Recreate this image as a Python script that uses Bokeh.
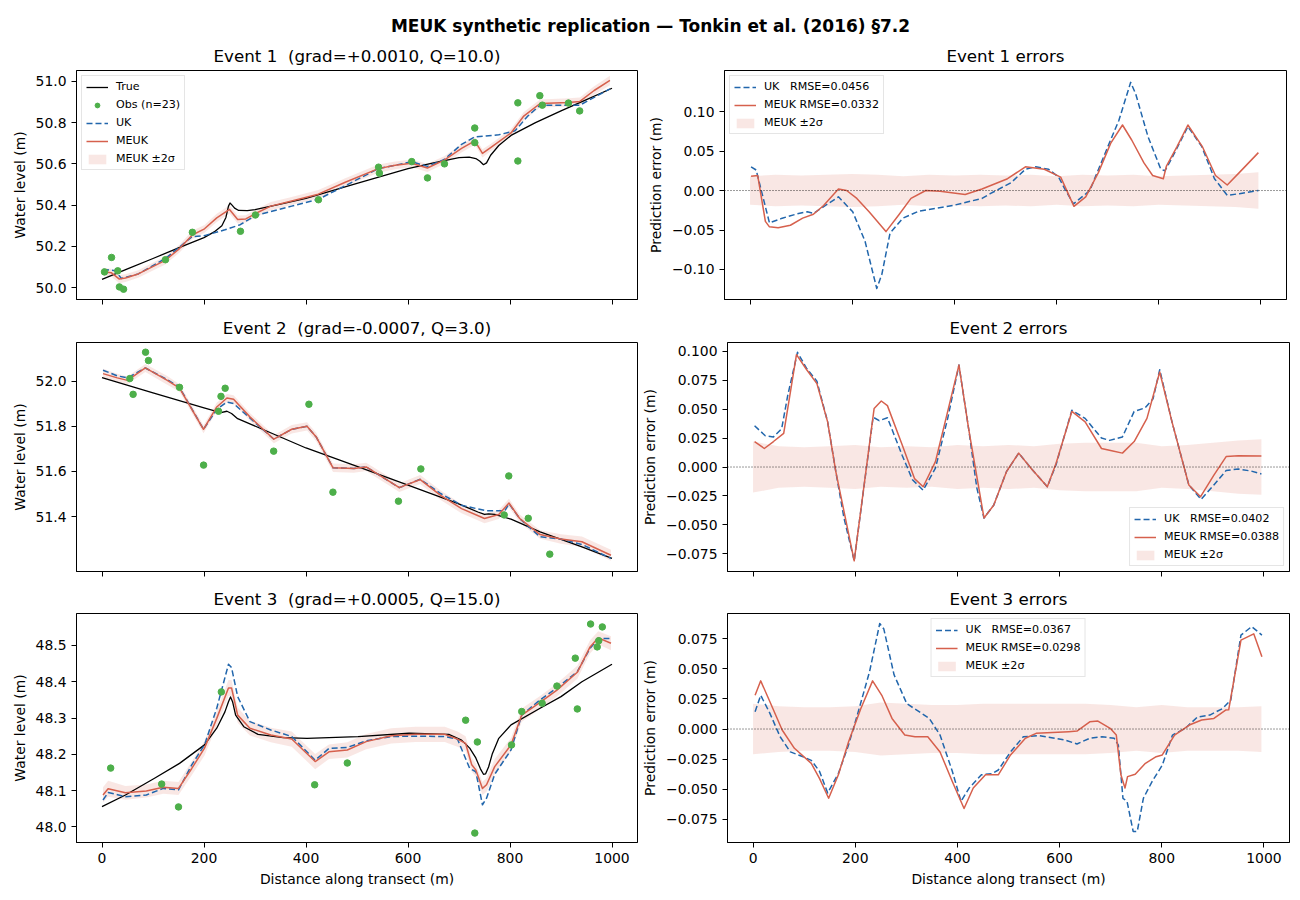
import numpy as np
from bokeh.plotting import figure
from bokeh.models import (Legend, LegendItem, FixedTicker, CustomJSTickFormatter,
                          Label, Range1d, Span)
from bokeh.layouts import column, row
from bokeh.embed import file_html
from bokeh.resources import INLINE

FONT = "DejaVu Sans"
C_TRUE = "black"
C_OBS = "#4daf4a"
C_UK = "#2166ac"
C_MEUK = "#d6604d"

SUPTITLE = "MEUK synthetic replication \u2014 Tonkin et al. (2016) \u00a77.2"
X_TICKS = [0, 200, 400, 600, 800, 1000]
X_LABEL = "Distance along transect (m)"
Y_LABEL_L = "Water level (m)"
Y_LABEL_R = "Prediction error (m)"

# ---------------- Event 1 ----------------
e1_title = "Event 1 \u00a0(grad=+0.0010, Q=10.0)"
e1_err_title = "Event 1 errors"
e1_uk_label = "UK   RMSE=0.0456"
e1_meuk_label = "MEUK RMSE=0.0332"
e1_yticks = [50.0, 50.2, 50.4, 50.6, 50.8, 51.0]
e1_err_yticks = [-0.10, -0.05, 0.0, 0.05, 0.10]

e1_true_x = [0, 50, 100, 150, 200, 220, 235, 243, 248, 251, 255, 260, 268, 285, 300, 350, 400, 500,
             600, 650, 700, 720, 733, 741, 748, 754, 762, 778, 802, 850, 900, 950, 1000]
e1_true_y = [50.040, 50.091, 50.141, 50.192, 50.242, 50.270, 50.300, 50.340, 50.395, 50.410, 50.400,
             50.385, 50.374, 50.373, 50.378, 50.405, 50.433, 50.505, 50.577, 50.605, 50.630, 50.633,
             50.626, 50.613, 50.596, 50.605, 50.642, 50.689, 50.738, 50.800, 50.857, 50.912, 50.967]
e1_obs_x = [4.9, 18.7, 30.9, 34.1, 42.3, 124.4, 177.2, 271.5, 300.8, 424.4, 542.3, 543.9, 607.3,
            638.2, 671.5, 730.9, 730.9, 815.4, 815.4, 858.5, 863.4, 914.6, 936.6]
e1_obs_y = [50.076, 50.146, 50.081, 50.003, 49.992, 50.135, 50.268, 50.273, 50.352, 50.426, 50.584,
            50.555, 50.611, 50.532, 50.600, 50.774, 50.703, 50.896, 50.614, 50.931, 50.885, 50.895,
            50.857]
e1_uk_x = [2, 26, 38, 71, 124, 177, 201, 241, 271, 301, 372, 424, 477, 542, 607, 638, 671, 705, 731,
           778, 810, 835, 859, 937, 996]
e1_uk_y = [50.087, 50.082, 50.044, 50.066, 50.140, 50.247, 50.252, 50.280, 50.305, 50.349, 50.395,
           50.428, 50.494, 50.577, 50.610, 50.588, 50.621, 50.695, 50.731, 50.741, 50.761, 50.832,
           50.885, 50.885, 50.964]
e1_meuk_x = [2, 18, 34, 46, 71, 124, 152, 177, 201, 225, 250, 266, 282, 301, 331, 372, 424, 477, 542,
             575, 607, 638, 671, 705, 731, 746, 762, 802, 827, 859, 915, 937, 965, 996]
e1_meuk_y = [50.077, 50.072, 50.041, 50.046, 50.066, 50.132, 50.189, 50.255, 50.285, 50.338, 50.379,
             50.330, 50.333, 50.359, 50.395, 50.420, 50.453, 50.511, 50.577, 50.593, 50.603, 50.580,
             50.618, 50.675, 50.712, 50.651, 50.679, 50.750, 50.832, 50.893, 50.898, 50.903, 50.956,
             51.005]
e1_meuk_sig = [0.018, 0.019, 0.020, 0.019, 0.018, 0.020, 0.019, 0.020, 0.019, 0.020, 0.020, 0.019,
               0.018, 0.019, 0.020, 0.019, 0.020, 0.019, 0.020, 0.019, 0.018, 0.020, 0.019, 0.020,
               0.019, 0.020, 0.018, 0.019, 0.020, 0.019, 0.020, 0.019, 0.021, 0.023]
e1_err_uk_x = [2, 12, 38, 63, 95, 112, 124, 173, 201, 225, 248, 258, 274, 299, 331, 397, 454, 470,
               511, 539, 559, 584, 604, 616, 633, 665, 698, 722, 745, 755, 779, 804, 812, 828, 857,
               884, 909, 934, 958, 995]
e1_err_uk_y = [0.030, 0.026, -0.041, -0.035, -0.029, -0.027, -0.029, -0.008, -0.027, -0.064, -0.124,
               -0.106, -0.054, -0.035, -0.026, -0.019, -0.010, -0.004, 0.010, 0.027, 0.030, 0.027,
               0.017, 0.002, -0.017, 0.000, 0.052, 0.089, 0.137, 0.122, 0.068, 0.027, 0.025, 0.044,
               0.081, 0.056, 0.015, -0.006, -0.004, 0.000]
e1_err_meuk_x = [2, 15, 30, 38, 55, 79, 103, 124, 144, 173, 189, 209, 233, 266, 291, 315, 344, 372,
                 421, 454, 504, 539, 576, 608, 634, 657, 682, 706, 729, 747, 771, 788, 809, 815, 836,
                 857, 885, 911, 934, 958, 995]
e1_err_meuk_y = [0.018, 0.019, -0.039, -0.046, -0.047, -0.044, -0.035, -0.030, -0.019, 0.002, 0.000,
                 -0.010, -0.027, -0.052, -0.031, -0.010, 0.000, -0.001, -0.005, 0.002, 0.015, 0.030,
                 0.027, 0.017, -0.020, -0.008, 0.023, 0.060, 0.083, 0.064, 0.035, 0.019, 0.015, 0.031,
                 0.056, 0.083, 0.056, 0.019, 0.007, 0.023, 0.048]
e1_sig_x = [0, 50, 100, 150, 200, 250, 300, 350, 400, 450, 500, 550, 600, 650, 700, 750, 800, 850,
            900, 950, 995]
e1_sig = [0.018, 0.020, 0.019, 0.020, 0.021, 0.020, 0.018, 0.020, 0.019, 0.020, 0.019, 0.020, 0.018,
          0.020, 0.019, 0.020, 0.018, 0.019, 0.020, 0.021, 0.023]

# ---------------- Event 2 ----------------
e2_title = "Event 2 \u00a0(grad=-0.0007, Q=3.0)"
e2_err_title = "Event 2 errors"
e2_uk_label = "UK   RMSE=0.0402"
e2_meuk_label = "MEUK RMSE=0.0388"
e2_yticks = [51.4, 51.6, 51.8, 52.0]
e2_err_yticks = [-0.075, -0.050, -0.025, 0.0, 0.025, 0.050, 0.075, 0.100]

e2_true_x = [0, 100, 200, 233, 245, 254, 266, 290, 400, 500, 600, 697, 737, 750, 758, 770, 802, 859,
             941, 1000]
e2_true_y = [52.016, 51.949, 51.882, 51.861, 51.867, 51.857, 51.834, 51.811, 51.704, 51.622, 51.539,
             51.458, 51.420, 51.409, 51.412, 51.409, 51.388, 51.332, 51.265, 51.214]
e2_obs_x = [54.5, 61.0, 85.4, 91.1, 152.0, 199.2, 228.5, 233.3, 241.5, 336.6, 405.7, 452.8, 581.3,
            625.2, 788.6, 797.6, 835.8, 878.0]
e2_obs_y = [52.012, 51.942, 52.129, 52.092, 51.973, 51.628, 51.867, 51.933, 51.969, 51.690, 51.898,
            51.508, 51.468, 51.611, 51.407, 51.580, 51.392, 51.233]
e2_uk_x = [2, 30, 50, 85, 128, 152, 199, 225, 245, 258, 290, 337, 372, 402, 420, 453, 494, 518, 583,
           624, 664, 705, 754, 790, 798, 819, 859, 900, 941, 998]
e2_uk_y = [52.049, 52.024, 52.015, 52.059, 52.007, 51.973, 51.787, 51.876, 51.908, 51.901, 51.837,
           51.743, 51.787, 51.800, 51.753, 51.616, 51.613, 51.620, 51.528, 51.565, 51.502, 51.450,
           51.425, 51.426, 51.457, 51.391, 51.310, 51.300, 51.276, 51.214]
e2_meuk_x = [2, 30, 50, 85, 128, 152, 199, 225, 245, 258, 290, 337, 372, 402, 420, 453, 494, 518, 583,
             624, 664, 705, 750, 778, 798, 819, 859, 900, 941, 998]
e2_meuk_y = [52.034, 52.015, 52.004, 52.059, 52.004, 51.970, 51.787, 51.886, 51.926, 51.920, 51.842,
             51.743, 51.787, 51.800, 51.753, 51.616, 51.613, 51.620, 51.528, 51.564, 51.494, 51.435,
             51.391, 51.409, 51.460, 51.391, 51.320, 51.300, 51.288, 51.228]
e2_meuk_sig = [0.022, 0.018, 0.017, 0.018, 0.019, 0.017, 0.018, 0.019, 0.018, 0.018, 0.017, 0.018,
               0.019, 0.018, 0.019, 0.019, 0.019, 0.018, 0.019, 0.020, 0.021, 0.021, 0.021, 0.020,
               0.019, 0.018, 0.019, 0.021, 0.023, 0.024]
e2_err_uk_x = [3, 24, 40, 56, 68, 87, 105, 125, 146, 162, 178, 198, 235, 247, 263, 292, 312, 333, 357,
               381, 403, 422, 438, 452, 471, 496, 520, 544, 576, 593, 624, 650, 682, 698, 723, 746,
               767, 783, 796, 820, 853, 877, 902, 926, 950, 975, 995]
e2_err_uk_y = [0.0356, 0.027, 0.026, 0.033, 0.062, 0.099, 0.085, 0.074, 0.039, -0.004, -0.044, -0.081,
               0.043, 0.040, 0.0425, 0.010, -0.011, -0.020, -0.001, 0.042, 0.088, 0.033, -0.018,
               -0.044, -0.033, -0.004, 0.012, -0.001, -0.017, 0.002, 0.049, 0.042, 0.025, 0.023,
               0.026, 0.048, 0.051, 0.059, 0.084, 0.039, -0.0155, -0.028, -0.0155, -0.003, -0.0017,
               -0.0035, -0.006]
e2_err_meuk_x = [3, 22, 40, 60, 85, 105, 125, 146, 162, 198, 237, 251, 263, 292, 316, 333, 357, 381,
                 403, 422, 452, 471, 496, 520, 544, 576, 593, 624, 650, 682, 702, 723, 746, 771, 796,
                 820, 853, 876, 902, 926, 950, 995]
e2_err_meuk_y = [0.022, 0.016, 0.022, 0.029, 0.097, 0.084, 0.072, 0.039, -0.004, -0.081, 0.0506,
                 0.057, 0.053, 0.019, -0.010, -0.017, 0.0046, 0.048, 0.088, 0.033, -0.044, -0.033,
                 -0.004, 0.012, -0.001, -0.017, 0.003, 0.048, 0.039, 0.016, 0.014, 0.012, 0.022, 0.042,
                 0.082, 0.039, -0.0155, -0.0256, -0.007, 0.009, 0.0098, 0.0095]
e2_sig_x = [0, 50, 100, 150, 200, 250, 300, 350, 400, 450, 500, 550, 600, 650, 700, 750, 800, 850,
            900, 950, 995]
e2_sig = [0.022, 0.018, 0.017, 0.018, 0.019, 0.017, 0.018, 0.017, 0.019, 0.018, 0.019, 0.018, 0.020,
          0.021, 0.021, 0.021, 0.018, 0.019, 0.021, 0.023, 0.024]

# ---------------- Event 3 ----------------
e3_title = "Event 3 \u00a0(grad=+0.0005, Q=15.0)"
e3_err_title = "Event 3 errors"
e3_uk_label = "UK   RMSE=0.0367"
e3_meuk_label = "MEUK RMSE=0.0298"
e3_yticks = [48.0, 48.1, 48.2, 48.3, 48.4, 48.5]
e3_err_yticks = [-0.075, -0.050, -0.025, 0.0, 0.025, 0.050, 0.075]

e3_true_x = [0, 46, 103, 152, 201, 225, 241, 248, 252, 256, 262, 278, 306, 355, 402, 502, 602, 680,
             705, 721, 733, 742, 748, 752, 758, 765, 778, 802, 859, 900, 941, 1000]
e3_true_y = [48.056, 48.088, 48.134, 48.175, 48.226, 48.272, 48.317, 48.345, 48.358, 48.345, 48.308,
             48.276, 48.255, 48.246, 48.244, 48.249, 48.258, 48.255, 48.239, 48.217, 48.190, 48.160,
             48.145, 48.146, 48.165, 48.200, 48.244, 48.281, 48.327, 48.359, 48.400, 48.448]
e3_obs_x = [17, 117, 150, 234, 417, 481, 713, 731, 736, 803, 823, 863, 892, 928, 932, 958, 971, 974,
            981]
e3_obs_y = [48.162, 48.118, 48.055, 48.372, 48.116, 48.176, 48.294, 47.983, 48.234, 48.226, 48.318,
            48.341, 48.388, 48.465, 48.325, 48.559, 48.496, 48.513, 48.551]
e3_uk_x = [2, 12, 46, 87, 120, 150, 176, 201, 225, 248, 254, 266, 290, 331, 372, 418, 445, 481, 518,
           567, 615, 672, 697, 721, 733, 746, 754, 770, 802, 823, 859, 892, 932, 957, 973, 995]
e3_uk_y = [48.074, 48.095, 48.083, 48.088, 48.106, 48.102, 48.171, 48.226, 48.327, 48.448, 48.439,
           48.359, 48.290, 48.267, 48.249, 48.184, 48.216, 48.219, 48.237, 48.249, 48.250, 48.249,
           48.242, 48.161, 48.152, 48.061, 48.079, 48.145, 48.212, 48.308, 48.350, 48.383, 48.428,
           48.492, 48.519, 48.519]
e3_meuk_x = [2, 12, 46, 87, 120, 150, 176, 201, 225, 248, 254, 266, 290, 331, 372, 418, 445, 481, 518,
             567, 615, 672, 697, 713, 725, 733, 746, 754, 770, 802, 823, 859, 892, 932, 957, 973, 998]
e3_meuk_y = [48.088, 48.105, 48.094, 48.099, 48.109, 48.106, 48.161, 48.217, 48.299, 48.383, 48.383,
             48.308, 48.272, 48.253, 48.242, 48.180, 48.207, 48.212, 48.235, 48.251, 48.255, 48.255,
             48.242, 48.230, 48.171, 48.157, 48.106, 48.116, 48.166, 48.226, 48.308, 48.343, 48.377,
             48.426, 48.496, 48.521, 48.506]
e3_meuk_sig = [0.021, 0.022, 0.019, 0.018, 0.018, 0.018, 0.019, 0.020, 0.021, 0.022, 0.022, 0.021,
               0.020, 0.020, 0.021, 0.021, 0.020, 0.021, 0.021, 0.021, 0.021, 0.021, 0.021, 0.020,
               0.019, 0.018, 0.018, 0.019, 0.021, 0.019, 0.018, 0.018, 0.018, 0.018, 0.018, 0.018,
               0.019]
e3_err_uk_x = [4, 15, 33, 53, 73, 98, 114, 130, 146, 167, 187, 203, 228, 248, 256, 276, 301, 325, 345,
               366, 390, 407, 423, 447, 468, 480, 504, 529, 561, 610, 634, 659, 683, 707, 715, 724,
               732, 744, 752, 764, 781, 801, 821, 846, 870, 894, 919, 935, 955, 976, 996]
e3_err_uk_y = [0.0144, 0.028, 0.013, -0.0064, -0.019, -0.023, -0.026, -0.035, -0.053, -0.037, -0.013,
               0.010, 0.0475, 0.0876, 0.083, 0.045, 0.021, 0.0144, 0.0088, -0.005, -0.035, -0.060,
               -0.049, -0.038, -0.037, -0.034, -0.019, -0.0064, -0.0055, -0.009, -0.0124, -0.0077,
               -0.0064, -0.0077, -0.0133, -0.0575, -0.060, -0.085, -0.085, -0.0575, -0.0436, -0.030,
               -0.005, 0.0006, 0.010, 0.0116, 0.017, 0.024, 0.078, 0.085, 0.078]
e3_err_meuk_x = [4, 15, 33, 57, 81, 114, 130, 148, 167, 187, 211, 234, 252, 272, 297, 317, 342, 366,
                 390, 413, 431, 455, 480, 504, 533, 554, 618, 634, 659, 675, 699, 711, 720, 728, 733,
                 748, 768, 789, 801, 825, 854, 878, 902, 925, 931, 955, 980, 996]
e3_err_meuk_y = [0.028, 0.040, 0.0227, -0.0008, -0.016, -0.0285, -0.041, -0.0575, -0.038, -0.0105,
                 0.017, 0.040, 0.028, 0.0088, -0.005, -0.0064, -0.0064, -0.019, -0.0436, -0.066,
                 -0.049, -0.038, -0.038, -0.0215, -0.0077, -0.0036, -0.0022, -0.0017, 0.006, 0.0066,
                 0.0006, -0.005, -0.038, -0.049, -0.0395, -0.0376, -0.0285, -0.023, -0.0215, -0.005,
                 0.0033, 0.0075, 0.0088, 0.0157, 0.016, 0.0738, 0.079, 0.060]
e3_sig_x = [0, 50, 100, 150, 200, 250, 300, 350, 400, 450, 500, 550, 600, 650, 700, 750, 800, 850,
            900, 950, 995]
e3_sig = [0.021, 0.019, 0.018, 0.018, 0.019, 0.022, 0.021, 0.020, 0.020, 0.021, 0.021, 0.021, 0.021,
          0.021, 0.020, 0.018, 0.020, 0.018, 0.018, 0.018, 0.019]

# axis ranges (as in the reference)
e1_yr = (49.942, 51.053)
e2_yr = (51.156, 52.172)
e3_yr = (47.957, 48.588)
e1_err_yr = (-0.138, 0.152)
e2_err_yr = (-0.0902, 0.1075)
e3_err_yr = (-0.0942, 0.0959)
X_RANGE = (-50, 1050)


def base_fig(fw, fh, bl, br, bt, bb, yr, title, show_x, ylabel, yticks, ydec):
    p = figure(frame_width=fw, frame_height=fh, x_range=Range1d(*X_RANGE), y_range=Range1d(*yr),
               min_border_left=bl, min_border_right=br, min_border_top=bt, min_border_bottom=bb,
               toolbar_location=None, output_backend="svg", title=title)
    p.title.align = "center"
    p.title.text_font = FONT
    p.title.text_font_size = "16.7px"
    p.title.text_font_style = "normal"
    p.title.text_color = "black"
    p.xgrid.grid_line_color = None
    p.ygrid.grid_line_color = None
    p.outline_line_color = "black"
    p.outline_line_alpha = 1.0
    p.outline_line_width = 1
    p.background_fill_color = "white"
    p.border_fill_color = "white"
    for ax in (p.xaxis[0], p.yaxis[0]):
        ax.axis_line_color = "black"
        ax.major_tick_line_color = "black"
        ax.major_tick_in = 0
        ax.major_tick_out = 5
        ax.minor_tick_line_color = None
        ax.major_label_text_font = FONT
        ax.major_label_text_font_size = "13.9px"
        ax.major_label_text_color = "black"
        ax.axis_label_text_font = FONT
        ax.axis_label_text_font_size = "13.9px"
        ax.axis_label_text_font_style = "normal"
        ax.axis_label_text_color = "black"
    p.xaxis.ticker = FixedTicker(ticks=X_TICKS)
    p.yaxis.ticker = FixedTicker(ticks=yticks)
    p.yaxis.formatter = CustomJSTickFormatter(
        code="return tick.toFixed(%d).replace('-', '\\u2212');" % ydec)
    p.yaxis.axis_label = ylabel
    p.yaxis.axis_label_standoff = 5
    if show_x:
        p.xaxis.axis_label = X_LABEL
        p.xaxis.axis_label_standoff = 5
    else:
        # shared x axis: tick marks only, no tick labels
        p.xaxis.major_label_overrides = {t: "" for t in X_TICKS}
        p.xaxis.major_label_standoff = 0
    return p


def style_legend(leg, loc):
    leg.location = loc
    leg.label_text_font = FONT
    leg.label_text_font_size = "11.1px"
    leg.label_text_color = "black"
    leg.glyph_width = 22
    leg.glyph_height = 12
    leg.label_height = 12
    leg.label_standoff = 8
    leg.spacing = 5
    leg.padding = 4
    leg.margin = 5
    leg.border_line_color = "#cccccc"
    leg.border_line_width = 1
    leg.background_fill_color = "white"
    leg.background_fill_alpha = 0.8


def left_panel(bt, bb, fh, yr, title, show_x, yticks, true_x, true_y, obs_x, obs_y,
               uk_x, uk_y, meuk_x, meuk_y, meuk_sig, legend_label=None):
    p = base_fig(561, fh, 76, 2, bt, bb, yr, title, show_x, Y_LABEL_L, yticks, 1)
    my = np.array(meuk_y)
    ms = np.array(meuk_sig)
    r_band = p.varea(x=meuk_x, y1=my - ms, y2=my + ms, fill_color=C_MEUK, fill_alpha=0.15)
    r_true = p.line(true_x, true_y, line_color=C_TRUE, line_width=1.3, line_join="round")
    r_uk = p.line(uk_x, uk_y, line_color=C_UK, line_width=1.5, line_dash="6 3", line_join="round")
    r_meuk = p.line(meuk_x, meuk_y, line_color=C_MEUK, line_width=1.5, line_join="round")
    r_obs = p.scatter(obs_x, obs_y, size=6.5, fill_color=C_OBS, line_color=C_OBS)
    if legend_label:
        leg = Legend(items=[
            LegendItem(label="True", renderers=[r_true]),
            LegendItem(label=legend_label, renderers=[r_obs]),
            LegendItem(label="UK", renderers=[r_uk]),
            LegendItem(label="MEUK", renderers=[r_meuk]),
            LegendItem(label="MEUK \u00b12\u03c3", renderers=[r_band]),
        ])
        style_legend(leg, "top_left")
        p.add_layout(leg)
    return p


def right_panel(bt, bb, fh, yr, title, show_x, yticks, ydec, ex_uk, ey_uk, ex_me, ey_me, sx, sig,
                uk_label, meuk_label, loc):
    p = base_fig(562, fh, 85, 14, bt, bb, yr, title, show_x, Y_LABEL_R, yticks, ydec)
    s = np.array(sig)
    r_band = p.varea(x=sx, y1=-s, y2=s, fill_color=C_MEUK, fill_alpha=0.15)
    p.add_layout(Span(location=0, dimension="width", line_color="black", line_width=0.8,
                      line_dash="1 2"))
    r_uk = p.line(ex_uk, ey_uk, line_color=C_UK, line_width=1.5, line_dash="6 3", line_join="round")
    r_me = p.line(ex_me, ey_me, line_color=C_MEUK, line_width=1.5, line_join="round")
    leg = Legend(items=[
        LegendItem(label=uk_label, renderers=[r_uk]),
        LegendItem(label=meuk_label, renderers=[r_me]),
        LegendItem(label="MEUK \u00b12\u03c3", renderers=[r_band]),
    ])
    style_legend(leg, loc)
    p.add_layout(leg)
    return p


# header with the figure-wide title
hdr = figure(width=1300, height=38, x_range=Range1d(0, 1), y_range=Range1d(0, 1),
             toolbar_location=None, output_backend="svg", min_border=0,
             x_axis_location=None, y_axis_location=None)
hdr.grid.visible = False
hdr.outline_line_color = None
hdr.add_layout(Label(x=0.5, y=1 - 25 / 38, text=SUPTITLE, text_align="center",
                     text_baseline="middle", text_font=FONT, text_font_size="17px",
                     text_font_style="bold", text_color="black"))

FH = 229
p1l = left_panel(32, 11, FH, e1_yr, e1_title, False, e1_yticks, e1_true_x, e1_true_y,
                 e1_obs_x, e1_obs_y, e1_uk_x, e1_uk_y, e1_meuk_x, e1_meuk_y, e1_meuk_sig,
                 legend_label="Obs (n=%d)" % len(e1_obs_x))
p1r = right_panel(32, 11, FH, e1_err_yr, e1_err_title, False, e1_err_yticks, 2, e1_err_uk_x,
                  e1_err_uk_y, e1_err_meuk_x, e1_err_meuk_y, e1_sig_x, e1_sig, e1_uk_label,
                  e1_meuk_label, "top_left")
p2l = left_panel(31, 10, FH, e2_yr, e2_title, False, e2_yticks, e2_true_x, e2_true_y,
                 e2_obs_x, e2_obs_y, e2_uk_x, e2_uk_y, e2_meuk_x, e2_meuk_y, e2_meuk_sig)
p2r = right_panel(31, 10, FH, e2_err_yr, e2_err_title, False, e2_err_yticks, 3, e2_err_uk_x,
                  e2_err_uk_y, e2_err_meuk_x, e2_err_meuk_y, e2_sig_x, e2_sig, e2_uk_label,
                  e2_meuk_label, "bottom_right")
p3l = left_panel(32, 58, FH, e3_yr, e3_title, True, e3_yticks, e3_true_x, e3_true_y,
                 e3_obs_x, e3_obs_y, e3_uk_x, e3_uk_y, e3_meuk_x, e3_meuk_y, e3_meuk_sig)
p3r = right_panel(32, 58, FH, e3_err_yr, e3_err_title, True, e3_err_yticks, 3, e3_err_uk_x,
                  e3_err_uk_y, e3_err_meuk_x, e3_err_meuk_y, e3_sig_x, e3_sig, e3_uk_label,
                  e3_meuk_label, "top_center")

layout = column(hdr, row(p1l, p1r), row(p2l, p2r), row(p3l, p3r))
open("out.html", "w").write(file_html(layout, INLINE))
